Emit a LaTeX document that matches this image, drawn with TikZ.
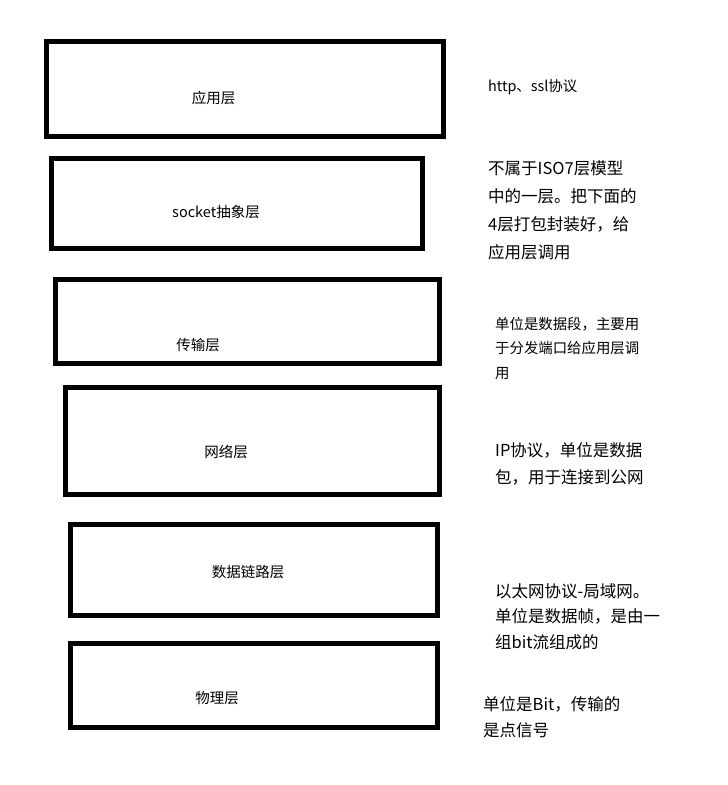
\documentclass[tikz,border=0pt]{standalone}
\usepackage{fontspec}
\setmainfont{Noto Sans CJK SC}
\usepackage{tikz}

\begin{document}
\begin{tikzpicture}[x=1pt,y=-1pt,
  layer/.style={draw=black,line width=5pt,fill=white,inner sep=0pt},
  layername/.style={font=\fontsize{14.5}{17}\selectfont,inner sep=0pt},
  notesmall/.style={anchor=west,align=left,inner sep=0pt,font=\fontsize{14.4}{24.5}\selectfont},
  notebig/.style={anchor=west,align=left,inner sep=0pt,font=\fontsize{16.5}{27}\selectfont}]

\useasboundingbox[fill=white] (0,0) rectangle (728,785);

% Layer boxes
\node[layer,minimum width=397,minimum height=95] (app) at (245,89) {};
\node[layer,minimum width=371,minimum height=90] (sock) at (237,203.5) {};
\node[layer,minimum width=384,minimum height=84] (trans) at (247.5,321.5) {};
\node[layer,minimum width=374,minimum height=107] (net) at (252.5,441) {};
\node[layer,minimum width=367,minimum height=91] (link) at (254,570) {};
\node[layer,minimum width=367,minimum height=84] (phys) at (254,685.5) {};

% Layer names
\node[layername] (appname) at (213.5,98) {应用层};
\node[layername] (sockname) at (216,212) {socket抽象层};
\node[layername] (transname) at (198,345) {传输层};
\node[layername] (netname) at (226,452) {网络层};
\node[layername] (linkname) at (248,572) {数据链路层};
\node[layername] (physname) at (217,698) {物理层};

% Notes on the right
\node[notesmall] (appnote) at (488,87) {http、ssl协议};
\node[notebig,font=\fontsize{16.5}{28}\selectfont] (socknote) at (488,210) {不属于ISO7层模型\\中的一层。把下面的\\4层打包封装好，给\\应用层调用};
\node[notesmall] (transnote) at (495,348.5) {单位是数据段，主要用\\于分发端口给应用层调\\用};
\node[notebig] (netnote) at (495,463.5) {IP协议，单位是数据\\包，用于连接到公网};
\node[notebig,font=\fontsize{16.5}{25.5}\selectfont] (linknote) at (495,616.5) {以太网协议-局域网。\\单位是数据帧，是由一\\组bit流组成的};
\node[notebig,font=\fontsize{16.5}{26}\selectfont] (physnote) at (483,717) {单位是Bit，传输的\\是点信号};

\end{tikzpicture}
\end{document}
